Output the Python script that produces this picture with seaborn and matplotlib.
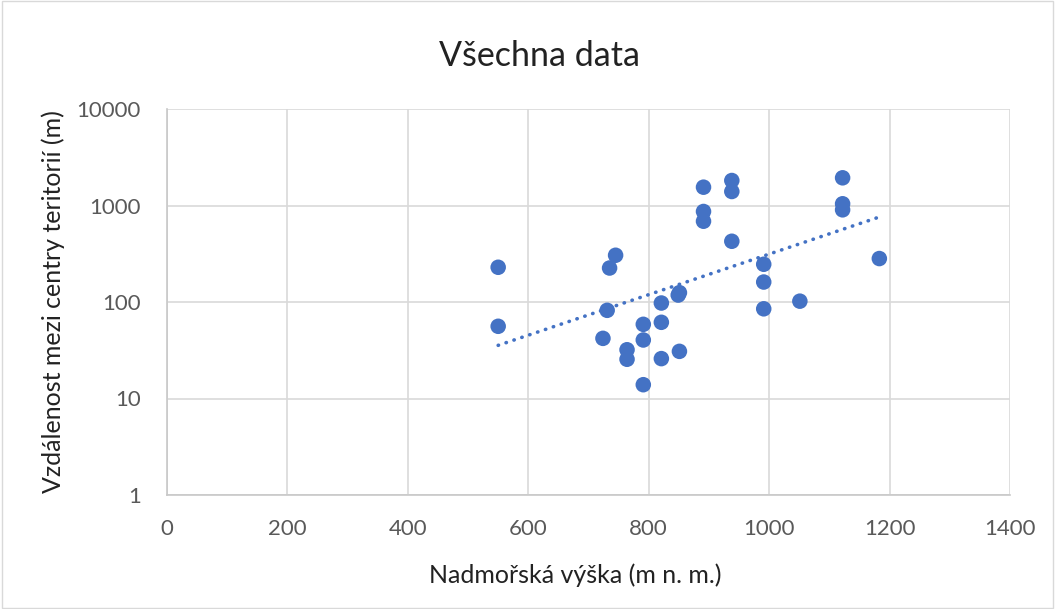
import numpy as np
import pandas as pd
import matplotlib
matplotlib.use("Agg")
import matplotlib.pyplot as plt
import seaborn as sns
from matplotlib.ticker import FixedLocator, FixedFormatter, NullLocator

altitude = [550, 550, 745, 735, 731, 724, 764, 764, 791, 791, 791, 821, 821, 821,
            851, 849, 851, 891, 891, 891, 938, 938, 938, 991, 991, 991, 1051,
            1122, 1122, 1122, 1183]
distance = [229, 56, 305, 225, 82, 42, 32, 25.5, 58.7, 40.4, 13.9, 97.6, 61.6, 25.9,
            125, 118, 30.8, 1548, 867, 687, 1815, 1397, 426, 246, 161, 85, 102,
            1936, 1042, 902, 282]

x_ticks = [0, 200, 400, 600, 800, 1000, 1200, 1400]
y_ticks = [1, 10, 100, 1000, 10000]
title = "Všechna data"
xlabel = "Nadmořská výška (m n. m.)"
ylabel = "Vzdálenost mezi centry teritorií (m)"

df = pd.DataFrame({"x": altitude, "y": distance})

# exponential trendline (Excel-style)
b, a = np.polyfit(df["x"], np.log(df["y"]), 1)
tx = np.linspace(min(altitude), max(altitude), 50)
trend = pd.DataFrame({"x": tx, "y": np.exp(a + b * tx)})

sns.set_theme(style="white")
plt.rcParams["font.family"] = ["Lato", "DejaVu Sans"]

W, H = 1055, 609
fig = plt.figure(figsize=(W / 100, H / 100), dpi=100)
ax = fig.add_axes([167/W, 1 - 495/H, (1010-167)/W, (495-109)/H])

blue = "#4472C4"
sns.lineplot(data=trend, x="x", y="y", ax=ax, color=blue, linewidth=2.6,
             linestyle=(0, (0.1, 2.2)), zorder=3)
ax.lines[-1].set_dash_capstyle("round")
sns.scatterplot(data=df, x="x", y="y", ax=ax, color=blue, s=125,
                edgecolor="none", zorder=4)

ax.set_yscale("log")
ax.set_xlim(0, 1400)
ax.set_ylim(1, 10000)
ax.xaxis.set_major_locator(FixedLocator(x_ticks))
ax.yaxis.set_major_locator(FixedLocator(y_ticks))
ax.yaxis.set_major_formatter(FixedFormatter([str(v) for v in y_ticks]))
ax.yaxis.set_minor_locator(NullLocator())
ax.grid(True, color="#d9d9d9", linewidth=1.2)
ax.set_axisbelow(True)
for s in ["top", "right"]:
    ax.spines[s].set_visible(False)
for s in ["bottom", "left"]:
    ax.spines[s].set_color("#c8c8c8")
    ax.spines[s].set_linewidth(1.2)
ax.tick_params(axis="y", length=0, labelsize=16, labelcolor="#595959", pad=19)
ax.tick_params(axis="x", length=0, labelsize=16, labelcolor="#595959", pad=17)
ax.set_xlabel("")
ax.set_ylabel("")

fig.text(575/W, 1 - 575/H, xlabel, ha="center", va="center", fontsize=18, color="#222222")
fig.text(53/W, 1 - 302/H, ylabel, ha="center", va="center", rotation=90,
         fontsize=18, color="#222222")
fig.text(0.5 * (440 + 639) / W, 1 - 56/H, title, ha="center", va="center",
         fontsize=24.5, color="#222222")

# outer chart border
fig.add_artist(plt.Rectangle((0.002, 0.002), 0.996, 0.996, transform=fig.transFigure,
                             fill=False, edgecolor="#d9d9d9", linewidth=1))

fig.savefig("out.png", dpi=100)
